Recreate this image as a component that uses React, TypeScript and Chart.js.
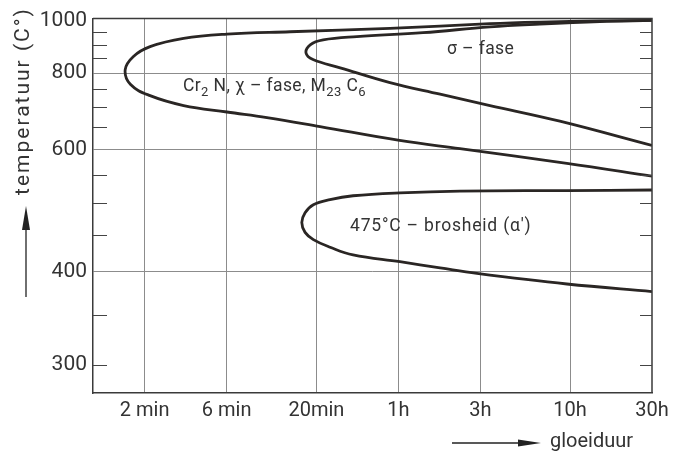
import React, { useEffect, useRef } from "react";
import { Chart, registerables } from "chart.js";

Chart.register(...registerables);

// ---- axis ticks ----
const xTickMinutes = [2, 6, 20, 60, 180, 600, 1800];
const xTickLabels = ["2 min", "6 min", "20min", "1h", "3h", "10h", "30h"];
const yTickTemps = [300, 400, 600, 800, 1000];
const yTickLabels = ["300", "400", "600", "800", "1000"];
const yMinorTemps = [300, 350, 450, 500, 550, 650, 700, 750, 850, 900, 950];
const yGridTemps = [400, 600, 800];

// ---- curves (time in minutes, temperature in °C) ----
const carbideMinutes = [1800, 894, 400, 205, 53.6, 14.05, 6.02, 3.37, 2.15, 1.72, 1.54, 1.65, 2.15, 3.37, 6.02, 10.3, 21, 61, 137, 575, 1800];
const carbideTemps = [1000, 998, 993, 986, 965, 951, 941, 924, 892, 856, 811, 765, 732, 705, 688, 674, 652, 620, 602, 572, 547];

const sigmaMinutes = [1800, 894, 400, 205, 83.5, 34.4, 21.9, 18.4, 17.4, 19.1, 27.5, 53.6, 105, 205, 523, 1800];
const sigmaTemps = [1000, 995, 984, 972, 947, 931, 918, 899, 868, 845, 817, 770, 736, 705, 665, 609];

const alphaMinutes = [1800, 575, 137, 61.3, 32.7, 24.0, 19.2, 17.18, 16.44, 17.18, 19.2, 24.0, 32.7, 61.3, 105, 172, 575, 1800];
const alphaTemps = [522, 521, 520, 517, 512, 505.5, 497, 484, 468.5, 453.8, 443.3, 432.6, 422, 413, 405, 398, 385, 376];

const Y_MIN_T = 275.4;
const Y_MAX_T = 1008.5;

// reciprocal absolute temperature scale
const tv = (t: number) => -10000 / (t + 273);

const FONT = "Roboto, 'DejaVu Sans', sans-serif";
const INK = "#2a2624";
const TEXT = "#333333";

type Part = { t: string; sub?: boolean };

function drawRich(ctx: CanvasRenderingContext2D, x: number, y: number, parts: Part[], size: number, spacing: number) {
  let cx = x;
  (ctx as any).letterSpacing = `${spacing}px`;
  for (const p of parts) {
    const s = p.sub ? Math.round(size * 0.76) : size;
    ctx.font = `${s}px ${FONT}`;
    ctx.fillText(p.t, cx, p.sub ? y + size * 0.3 : y);
    cx += ctx.measureText(p.t).width;
  }
  (ctx as any).letterSpacing = "0px";
}

const decor = {
  id: "decor",
  beforeDraw(chart: any) {
    const ctx = chart.ctx;
    ctx.save();
    ctx.fillStyle = "#ffffff";
    ctx.fillRect(0, 0, chart.width, chart.height);
    ctx.restore();
  },
  afterDraw(chart: any) {
    const ctx: CanvasRenderingContext2D = chart.ctx;
    const { left, right, top, bottom } = chart.chartArea;
    const ys = chart.scales.y;
    ctx.save();
    // frame top & right
    ctx.strokeStyle = "#3a3a3a";
    ctx.lineWidth = 1.5;
    ctx.beginPath();
    ctx.moveTo(left, top);
    ctx.lineTo(right, top);
    ctx.lineTo(right, bottom);
    ctx.stroke();
    // inward minor ticks
    ctx.lineWidth = 1.2;
    ctx.strokeStyle = "#444";
    for (const t of yMinorTemps) {
      const y = Math.round(ys.getPixelForValue(tv(t))) + 0.5;
      ctx.beginPath();
      ctx.moveTo(left, y);
      ctx.lineTo(left + 14, y);
      ctx.moveTo(right - 12, y);
      ctx.lineTo(right, y);
      ctx.stroke();
    }
    // annotations
    ctx.fillStyle = TEXT;
    ctx.textBaseline = "alphabetic";
    ctx.textAlign = "left";
    drawRich(ctx, 183, 91, [
      { t: "Cr" }, { t: "2", sub: true }, { t: " N, χ – fase, M" }, { t: "23", sub: true }, { t: " C" }, { t: "6", sub: true },
    ], 17.5, 0.4);
    drawRich(ctx, 447, 54, [{ t: "σ – fase" }], 17.5, 0.4);
    drawRich(ctx, 350, 231, [{ t: "475°C – brosheid (α′)" }], 17.5, 0.8);

    // y title
    ctx.save();
    ctx.translate(24, 101);
    ctx.rotate(-Math.PI / 2);
    ctx.font = `21px ${FONT}`;
    (ctx as any).letterSpacing = "2px";
    ctx.textAlign = "center";
    ctx.textBaseline = "middle";
    ctx.fillText("temperatuur (C°)", 0, 0);
    ctx.restore();

    // y arrow
    ctx.strokeStyle = "#222";
    ctx.fillStyle = "#222";
    ctx.lineWidth = 1.3;
    ctx.beginPath();
    ctx.moveTo(26, 297);
    ctx.lineTo(26, 222);
    ctx.stroke();
    ctx.beginPath();
    ctx.moveTo(26, 206);
    ctx.lineTo(22, 230);
    ctx.lineTo(30, 230);
    ctx.closePath();
    ctx.fill();

    // x arrow + title
    ctx.beginPath();
    ctx.moveTo(452, 443);
    ctx.lineTo(525, 443);
    ctx.stroke();
    ctx.beginPath();
    ctx.moveTo(541, 443);
    ctx.lineTo(518, 439.5);
    ctx.lineTo(518, 446.5);
    ctx.closePath();
    ctx.fill();
    ctx.fillStyle = TEXT;
    ctx.font = `20px ${FONT}`;
    ctx.textAlign = "left";
    ctx.textBaseline = "alphabetic";
    ctx.fillText("gloeiduur", 550, 447);
    ctx.restore();
  },
};

function curve(minutes: number[], temps: number[]) {
  return {
    data: minutes.map((m, i) => ({ x: m, y: tv(temps[i]) })),
    showLine: true,
    pointRadius: 0,
    borderColor: INK,
    borderWidth: 2.8,
    tension: 0.4,
    fill: false,
  };
}

export default function App() {
  const ref = useRef<HTMLCanvasElement>(null);
  useEffect(() => {
    if (!ref.current) return;
    const chart = new Chart(ref.current, {
      type: "scatter",
      data: {
        datasets: [
          curve(carbideMinutes, carbideTemps),
          curve(sigmaMinutes, sigmaTemps),
          curve(alphaMinutes, alphaTemps),
        ] as any,
      },
      options: {
        responsive: false,
        animation: false,
        devicePixelRatio: 1,
        layout: { padding: { top: 13, right: 34, left: 0, bottom: 0 } },
        plugins: { legend: { display: false }, tooltip: { enabled: false } },
        scales: {
          x: {
            type: "logarithmic",
            min: 1,
            max: 1800,
            afterFit: (s: any) => {
              s.height = 61;
            },
            afterBuildTicks: (s: any) => {
              s.ticks = xTickMinutes.map((v) => ({ value: v }));
            },
            ticks: {
              autoSkip: false,
              maxRotation: 0,
              minRotation: 0,
              padding: 6,
              color: TEXT,
              font: { size: 20, family: FONT },
              callback: (_v: any, i: number) => xTickLabels[i],
            },
            grid: {
              drawTicks: false,
              lineWidth: 1,
              color: (c: any) => (c.index < xTickMinutes.length - 1 ? "#8c8c8c" : "rgba(0,0,0,0)"),
            },
            border: { color: "#3a3a3a", width: 1.5 },
          },
          y: {
            type: "linear",
            min: tv(Y_MIN_T),
            max: tv(Y_MAX_T),
            afterFit: (s: any) => {
              s.width = 93;
            },
            afterBuildTicks: (s: any) => {
              s.ticks = yTickTemps.map((t) => ({ value: tv(t) }));
            },
            ticks: {
              autoSkip: false,
              padding: 6,
              color: TEXT,
              font: { size: 21, family: FONT },
              callback: (_v: any, i: number) => yTickLabels[i],
            },
            grid: {
              drawTicks: false,
              lineWidth: 1,
              color: (c: any) => (yGridTemps.includes(yTickTemps[c.index]) ? "#8c8c8c" : "rgba(0,0,0,0)"),
            },
            border: { color: "#3a3a3a", width: 1.5 },
          },
        },
      } as any,
      plugins: [decor],
    });
    return () => chart.destroy();
  }, []);
  return (
    <canvas
      ref={ref}
      width={686}
      height={454}
      style={{ position: "fixed", left: 0, top: 0, width: 686, height: 454 }}
    />
  );
}
